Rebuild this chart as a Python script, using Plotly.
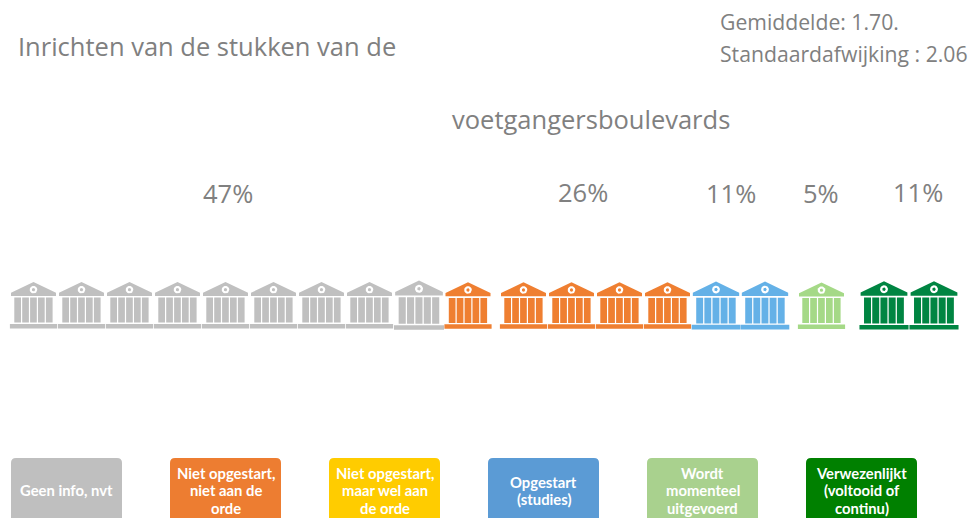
import numpy as np
import plotly.graph_objects as go

# --- data ---
categories = ["Geen info, nvt", "Niet opgestart,<br>niet aan de<br>orde", "Niet opgestart,<br>maar wel aan<br>de orde",
              "Opgestart<br>(studies)", "Wordt<br>momenteel<br>uitgevoerd", "Verwezenlijkt<br>(voltooid of<br>continu)"]
icon_counts = [9, 5, 0, 2, 1, 2]
share_labels = ["47%", "26%", "11%", "5%", "11%"]
title_1 = "Inrichten van de stukken van de"
title_2 = "voetgangersboulevards"
stat_1 = "Gemiddelde: 1.70."
stat_2 = "Standaardafwijking : 2.06"

# --- style / layout ---
box_colors = ["#BFBFBF", "#ED7D31", "#FFCC00", "#5B9BD5", "#A9D18E", "#008000"]
icon_colors = ["#C0C0C0", "#EF7F31", "#FFCC00", "#64B1E7", "#A5D987", "#008542"]
TEXT = "#808080"
FONT = "Open Sans"
W, H = 970, 518
# icon placement: (centre x, vertical shift, scale), per category
icon_layout = [
    [(33.5, 0, 1), (81.5, 0, 1), (129.5, 0, 1), (177.5, 0, 1), (225.5, 0, 1), (273.5, 0, 1),
     (321.5, 0, 1), (369.5, 0, 1), (419, 0, 1.06)],
    [(468, 0.3, 1), (523.5, 0.3, 1), (571.5, 0.3, 1), (619.5, 0.3, 1), (667.5, 0.3, 1)],
    [],
    [(716, 0.3, 1.03), (765, 0.3, 1.03)],
    [(821.5, 0.5, 1)],
    [(884, 0.2, 1.04), (934, 0.2, 1.04)],
]
share_pos = [(228, 193), (583, 192), (730.5, 193), (821, 193), (917.5, 192)]
box_x = [11, 170, 329, 488, 647, 806]
BOX_W, BOX_TOP, BOX_R = 111, 458, 5
LINE_H = 17.5
LABEL_MID = 490.3


def icon_polys(cx, dy, s):
    """Polygons for one temple icon, built around a centre at y=305."""
    y0 = 305
    def pt(px, py):
        return cx + px * s, y0 + (py - y0) * s + dy
    polys = [[pt(-22.5, 296), pt(-22.5, 292.8), pt(0, 282), pt(22.5, 292.8), pt(22.5, 296)]]
    for i in range(5):
        l = -19.2 + i * 7.9
        polys.append([pt(l, 297.6), pt(l + 6.7, 297.6), pt(l + 6.7, 322.6), pt(l, 322.6)])
    polys.append([pt(-23.6, 324), pt(23.6, 324), pt(23.6, 328.4), pt(-23.6, 328.4)])
    return polys


def circle(cx, cy, r):
    t = np.linspace(0, 2 * np.pi, 25)
    return list(zip(cx + r * np.cos(t), cy + r * np.sin(t)))


def to_xy(polys):
    xs, ys = [], []
    for p in polys:
        for a, b in p:
            xs.append(a); ys.append(b)
        xs.append(p[0][0]); ys.append(p[0][1])
        xs.append(None); ys.append(None)
    return xs, ys


fig = go.Figure()


def add_poly(polys, color):
    x, y = to_xy(polys)
    fig.add_trace(go.Scatter(x=x, y=y, mode="lines", fill="toself", fillcolor=color,
                             line=dict(width=0, color=color), hoverinfo="skip", showlegend=False))


for n, placed, col in zip(icon_counts, icon_layout, icon_colors):
    if n == 0:
        continue
    body, ring, dot = [], [], []
    for cx, dy, s in placed[:n]:
        body += icon_polys(cx, dy, s)
        cy = 305 + (289.7 - 305) * s + dy
        ring.append(circle(cx, cy, 3.8 * s))
        dot.append(circle(cx, cy, 1.7 * s))
    add_poly(body, col)
    add_poly(ring, "#FFFFFF")
    add_poly(dot, col)

shapes = []
for x, c in zip(box_x, box_colors):
    r = BOX_R
    path = (f"M {x},{H + 5} L {x},{BOX_TOP + r} Q {x},{BOX_TOP} {x + r},{BOX_TOP} "
            f"L {x + BOX_W - r},{BOX_TOP} Q {x + BOX_W},{BOX_TOP} {x + BOX_W},{BOX_TOP + r} "
            f"L {x + BOX_W},{H + 5} Z")
    shapes.append(dict(type="path", path=path, fillcolor=c, line=dict(width=0), layer="below"))

ann = []


def text(x, y, s, size, color=TEXT, anchor="left", family=FONT):
    ann.append(dict(x=x, y=y, text=s, showarrow=False, xanchor=anchor, yanchor="middle",
                    font=dict(family=family, size=size, color=color), align="center" if anchor == "center" else "left"))


text(16, 46, title_1, 25.5)
text(450, 119, title_2, 25.5)
text(718, 21, stat_1, 21.2)
text(718, 53, stat_2, 21.2)
for (x, y), s in zip(share_pos, share_labels):
    text(x, y, s, 25.5, anchor="center")
for x, s in zip(box_x, categories):
    lines = s.split("<br>")
    for i, line in enumerate(lines):
        y = LABEL_MID + (i - (len(lines) - 1) / 2) * LINE_H
        text(x + BOX_W / 2, y, f"<b>{line}</b>", 14.8, "#FFFFFF", "center", "Lato")

fig.update_layout(
    width=W, height=H, margin=dict(l=0, r=0, t=0, b=0),
    paper_bgcolor="white", plot_bgcolor="white", showlegend=False,
    xaxis=dict(range=[0, W], visible=False, fixedrange=True),
    yaxis=dict(range=[H, 0], visible=False, fixedrange=True),
    shapes=shapes, annotations=ann,
)
fig.write_html("out.html", config={"displayModeBar": False},
               post_script="document.body.style.margin='0';document.documentElement.style.overflow='hidden';")
